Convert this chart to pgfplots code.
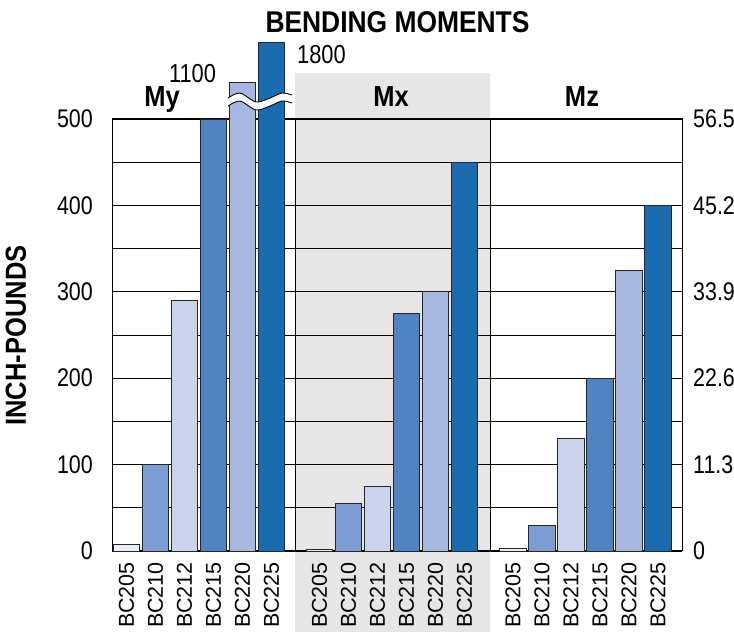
\documentclass[border=0pt]{standalone}
\usepackage{fontspec}
\setmainfont{Liberation Sans}
\newfontfamily\condfont{Liberation Sans}[FakeStretch=0.84]
\newfontfamily\condbfont{Liberation Sans}[FakeStretch=0.88]
\usepackage{pgfplots}
\pgfplotsset{compat=1.18}
\definecolor{c205}{HTML}{E9EDF7}
\definecolor{c210}{HTML}{7B9DD3}
\definecolor{c212}{HTML}{C9D3EB}
\definecolor{c215}{HTML}{5083C4}
\definecolor{c220}{HTML}{A6B8DF}
\definecolor{c225}{HTML}{1B6BB1}
\definecolor{bggray}{HTML}{E6E6E6}
\begin{document}
\begin{tikzpicture}
\begin{axis}[
  set layers,
  scale only axis, width=570bp, height=432bp,
  xmin=-0.5, xmax=19.155, ymin=0, ymax=500,
  clip=false,
  ybar, bar width=26.5bp, bar shift=0pt,
  xtick={0,1,2,3,4,5,6.655,7.655,8.655,9.655,10.655,11.655,13.33,14.33,15.33,16.33,17.33,18.33},
  xticklabels={BC205,BC210,BC212,BC215,BC220,BC225,BC205,BC210,BC212,BC215,BC220,BC225,BC205,BC210,BC212,BC215,BC220,BC225},
  x tick label style={rotate=90, anchor=east, font=\fontsize{21.5bp}{21.5bp}\selectfont, inner sep=0pt},
  xticklabel shift=11bp,
  ytick={0,100,200,300,400,500},
  yticklabels={0,100,200,300,400,500},
  minor ytick={50,150,250,350,450},
  ymajorgrids, yminorgrids,
  major grid style={black, line width=0.8bp},
  minor grid style={black, line width=0.8bp},
  major tick length=0pt, minor tick length=0pt,
  axis line style={black, line width=1bp},
  y tick label style={font=\condfont\fontsize{25.5bp}{25.5bp}\selectfont, inner sep=0pt},
  yticklabel shift=19bp,
  every axis plot/.append style={draw=black!85, line width=0.8bp},
]
\begin{pgfonlayer}{axis background}
\fill[bggray] (axis cs:5.81,-93.75) rectangle (axis cs:12.534,553.2);
\end{pgfonlayer}
\addplot[fill=c205] coordinates {(0,8) (6.655,2) (13.33,3)};
\addplot[fill=c210] coordinates {(1,100) (7.655,55) (14.33,30)};
\addplot[fill=c212] coordinates {(2,290) (8.655,75) (15.33,130)};
\addplot[fill=c215] coordinates {(3,500) (9.655,275) (16.33,200)};
\addplot[fill=c220] coordinates {(4,542.8) (10.655,300) (17.33,325)};
\addplot[fill=c225] coordinates {(5,589.1) (11.655,450) (18.33,400)};
\draw[black, line width=0.8bp] (axis cs:5.81,0) -- (axis cs:5.81,500);
\draw[black, line width=0.8bp] (axis cs:12.534,0) -- (axis cs:12.534,500);
\coordinate (TL) at (axis cs:-4.362,637.73);
\coordinate (BR) at (axis cs:20.948,-93.75);
\end{axis}
\begin{axis}[
  scale only axis, width=570bp, height=432bp,
  xmin=-0.5, xmax=19.155, ymin=0, ymax=500,
  axis y line*=right, axis x line=none,
  ytick={0,100,200,300,400,500},
  yticklabels={0,11.3,22.6,33.9,45.2,56.5},
  major tick length=0pt,
  axis line style={black, line width=1bp},
  y tick label style={font=\condfont\fontsize{25.5bp}{25.5bp}\selectfont, inner sep=0pt},
  yticklabel shift=11bp,
]
\end{axis}
\begin{scope}[shift={(TL)}, x=1bp, y=-1bp]
  \fill[white] plot[smooth] coordinates {(228,98) (240,93) (256,102) (270,98) (282,93) (292,95)}
     -- plot[smooth] coordinates {(292,103) (282,101) (270,106) (256,110) (240,101) (228,106)} -- cycle;
  \draw[black, line width=0.9bp] plot[smooth] coordinates {(228,98) (240,93) (256,102) (270,98) (282,93) (292,95)};
  \draw[black, line width=0.9bp] plot[smooth] coordinates {(228,106) (240,101) (256,110) (270,106) (282,101) (292,103)};
  \node[anchor=base, inner sep=0pt, font=\condbfont\bfseries\fontsize{30bp}{30bp}\selectfont] at (397.5,32.5) {BENDING MOMENTS};
  \node[anchor=base, inner sep=0pt, font=\condbfont\bfseries\fontsize{29bp}{29bp}\selectfont] at (162,107) {My};
  \node[anchor=base, inner sep=0pt, font=\condbfont\bfseries\fontsize{29bp}{29bp}\selectfont] at (391,107) {Mx};
  \node[anchor=base, inner sep=0pt, font=\condbfont\bfseries\fontsize{29bp}{29bp}\selectfont] at (582,107) {Mz};
  \node[anchor=base, inner sep=0pt, font=\condfont\fontsize{26bp}{26bp}\selectfont] at (192.5,83) {1100};
  \node[anchor=base, inner sep=0pt, font=\condfont\fontsize{26bp}{26bp}\selectfont] at (321.5,63.5) {1800};
  \node[rotate=90, inner sep=0pt, font=\condbfont\bfseries\fontsize{29bp}{29bp}\selectfont] at (16,335.5) {INCH-POUNDS};
\end{scope}
\pgfresetboundingbox
\path[use as bounding box] (TL) rectangle (BR);
\end{tikzpicture}
\end{document}
